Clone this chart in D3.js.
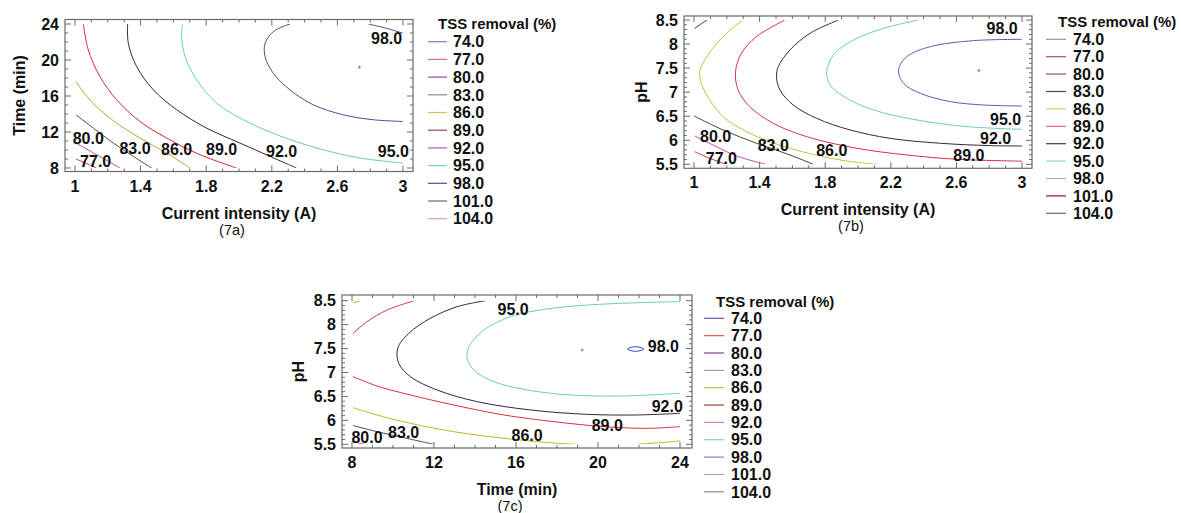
<!DOCTYPE html>
<html><head><meta charset="utf-8">
<script src="https://cdn.jsdelivr.net/npm/d3@7"></script>
<style>
body{margin:0;background:#fff;}
svg text{font-family:"Liberation Sans",Arial,sans-serif;}
</style></head><body>
<svg id="c" width="1181" height="513"></svg>
<script>
// ---------------- data ----------------
const legendLevels = [74, 77, 80, 83, 86, 89, 92, 95, 98, 101, 104];
const currentTicks = [1, 1.4, 1.8, 2.2, 2.6, 3];
const timeTicks = [8, 12, 16, 20, 24];
const phTicks = [5.5, 6, 6.5, 7, 7.5, 8, 8.5];

// 7a : current intensity (A) vs time (min)
const contours7a = [
  {level: 77, pts: [[1.006, 9.0], [1.07, 8.5], [1.13, 8.0]]},
  {level: 80, pts: [[1.006, 10.77], [1.132, 9.48], [1.274, 8.0]]},
  {level: 83, pts: [[1.006, 13.91], [1.112, 12.43], [1.234, 10.77], [1.356, 9.29], [1.467, 8.0]]},
  {level: 86, pts: [[1.006, 17.61], [1.071, 15.95], [1.152, 14.47], [1.254, 12.99], [1.396, 11.33], [1.559, 9.66], [1.701, 8.0]]},
  {level: 89, pts: [[1.051, 24], [1.081, 21.12], [1.152, 18.16], [1.254, 15.58], [1.396, 13.17], [1.559, 11.33], [1.762, 9.48], [1.985, 8.0]]},
  {level: 92, pts: [[1.321, 24], [1.325, 21.86], [1.376, 19.27], [1.478, 16.68], [1.62, 14.47], [1.803, 12.43], [2.006, 10.77], [2.189, 9.29], [2.35, 8.0]]},
  {level: 95, pts: [[1.656, 24], [1.65, 22.6], [1.671, 20.38], [1.742, 17.79], [1.864, 15.21], [2.026, 13.36], [2.23, 11.7], [2.474, 10.22], [2.738, 9.11], [3.0, 8.55]]},
  {level: 98, pts: [[2.311, 24], [2.209, 23.15], [2.159, 21.86], [2.159, 20.38], [2.209, 18.53], [2.311, 16.68], [2.453, 15.02], [2.636, 13.91], [2.819, 13.36], [3.0, 13.17]]},
  {level: 98, pts: [[2.789, 24], [2.9, 23.52], [3.0, 22.97]]}
];
const labels7a = [[80, 1.081, 11.33], [77, 1.126, 8.74], [83, 1.366, 10.22], [86, 1.62, 10.03], [89, 1.894, 10.03], [92, 2.26, 9.85], [95, 2.941, 9.85], [98, 2.9, 22.41]];
const optimum7a = [2.734, 19.2];

// 7b : current intensity (A) vs pH
const contours7b = [
  {level: 77, pts: [[1.004, 5.763], [1.096, 5.625], [1.198, 5.5]]},
  {level: 80, pts: [[1.004, 6.089], [1.137, 5.867], [1.259, 5.673], [1.438, 5.5]]},
  {level: 83, pts: [[1.0, 6.505], [1.177, 6.214], [1.381, 5.937], [1.585, 5.694], [1.728, 5.5]]},
  {level: 83, pts: [[1.004, 8.327], [1.079, 8.5]]},
  {level: 86, pts: [[1.296, 8.5], [1.157, 8.084], [1.065, 7.669], [1.035, 7.426], [1.045, 7.184], [1.096, 6.837], [1.177, 6.491], [1.34, 6.144], [1.585, 5.833], [1.891, 5.59], [2.115, 5.5]]},
  {level: 89, pts: [[1.554, 8.5], [1.381, 8.154], [1.289, 7.807], [1.253, 7.426], [1.269, 7.045], [1.34, 6.699], [1.483, 6.352], [1.687, 6.075], [1.993, 5.833], [2.298, 5.694], [2.604, 5.604], [3.0, 5.565]]},
  {level: 92, pts: [[1.881, 8.5], [1.707, 8.223], [1.585, 7.877], [1.514, 7.53], [1.503, 7.322], [1.524, 7.045], [1.605, 6.733], [1.748, 6.456], [1.952, 6.214], [2.196, 6.04], [2.502, 5.937], [2.808, 5.888], [3.0, 5.881]]},
  {level: 95, pts: [[2.37, 8.5], [2.156, 8.327], [1.972, 8.084], [1.85, 7.773], [1.809, 7.426], [1.83, 7.149], [1.932, 6.872], [2.095, 6.629], [2.36, 6.421], [2.665, 6.283], [3.0, 6.227]]},
  {level: 98, pts: [[3.0, 8.098], [2.706, 8.071], [2.441, 7.946], [2.298, 7.738], [2.247, 7.461], [2.278, 7.184], [2.38, 6.976], [2.563, 6.803], [2.767, 6.733], [3.0, 6.712]]}
];
const labels7b = [[80, 1.132, 6.075], [77, 1.167, 5.625], [83, 1.483, 5.888], [86, 1.84, 5.798], [89, 2.676, 5.694], [92, 2.839, 6.04], [95, 2.9, 6.442], [98, 2.879, 8.327]];
const optimum7b = [2.737, 7.447];

// 7c : time (min) vs pH
const contours7c = [
  {level: 80, pts: [[8.0, 5.56], [8.3, 5.53], [8.6, 5.5]]},
  {level: 83, pts: [[8.05, 5.89], [9.22, 5.764], [10.52, 5.639], [11.99, 5.5]]},
  {level: 86, pts: [[8.05, 6.266], [9.22, 6.113], [10.85, 5.939], [12.96, 5.764], [15.41, 5.625], [17.36, 5.542], [18.9, 5.5]]},
  {level: 86, pts: [[21.92, 5.5], [23.06, 5.535], [24.0, 5.57]]},
  {level: 86, pts: [[8.05, 8.458], [8.41, 8.5]]},
  {level: 89, pts: [[8.05, 6.913], [9.22, 6.718], [10.85, 6.53], [12.96, 6.321], [15.41, 6.113], [17.85, 5.973], [20.29, 5.869], [22.4, 5.834], [24.0, 5.869]]},
  {level: 89, pts: [[8.05, 7.818], [8.73, 8.061], [9.71, 8.305], [11.04, 8.5]]},
  {level: 92, pts: [[14.51, 8.5], [13.13, 8.375], [11.82, 8.131], [10.77, 7.818], [10.23, 7.505], [10.28, 7.191], [10.85, 6.913], [12.15, 6.635], [14.1, 6.391], [16.71, 6.217], [19.47, 6.126], [21.92, 6.113], [24.0, 6.147]]},
  {level: 95, pts: [[24.0, 8.479], [21.92, 8.458], [19.47, 8.409], [17.36, 8.319], [15.73, 8.166], [14.43, 7.887], [13.7, 7.539], [13.62, 7.296], [13.94, 7.052], [14.92, 6.809], [16.55, 6.635], [18.66, 6.53], [21.1, 6.509], [24.0, 6.565]]},
  {level: 98, closed: true, pts: [[21.43, 7.491], [21.62, 7.525], [21.83, 7.539], [22.05, 7.525], [22.24, 7.491], [22.05, 7.456], [21.83, 7.442], [21.62, 7.456]]}
];
const labels7c = [[80, 8.73, 5.639], [83, 10.52, 5.751], [86, 16.54, 5.681], [89, 20.45, 5.904], [92, 23.38, 6.3], [95, 15.86, 8.319], [98, 23.19, 7.539]];
const optimum7c = [19.23, 7.47];

// colours (legend swatches and plotted contour lines)
const legendColors7a = ['#7c7cc8', '#e07080', '#8a4aa8', '#8c8c80', '#d0c050', '#a04848', '#a060c0', '#78d0c0', '#5a4a80', '#806070', '#d8a0b0'];
const legendColors7b = ['#9090d0', '#a05858', '#9048a0', '#3a5a3a', '#d8d060', '#e06868', '#4a2c68', '#88d8cc', '#b0b0d4', '#801818', '#905858'];
const legendColors7c = ['#5858a0', '#e05858', '#8040a0', '#a0a0a0', '#c0c040', '#a04040', '#e080c0', '#80d0c0', '#8080c0', '#c0a0a0', '#a08080'];
const lineColors7a = {77: '#b84070', 80: '#c848b0', 83: '#505050', 86: '#b0a838', 89: '#cc2840', 92: '#3c2040', 95: '#68ccc0', 98: '#4c4c8c'};
const lineColors7b = {77: '#d03050', 80: '#c848a8', 83: '#404838', 86: '#c8c040', 89: '#d83048', 92: '#402040', 95: '#68ccc0', 98: '#5a5ab0'};
const lineColors7c = {80: '#d050a0', 83: '#485048', 86: '#c0b820', 89: '#d83040', 92: '#3a2040', 95: '#68ccc0', 98: '#3040c0'};

// ---------------- layout ----------------
const FONT = 16;
const TITLE_FONT = 15;
const panels = [
  {id: '7a', xDom: [1, 3], xRange: [75, 403], yDom: [8, 24], yRange: [168, 24],
   frame: [65, 19.5, 413, 171.5], xTicks: currentTicks, yTicks: timeTicks,
   xMinor: 0.1, yMinor: 1, xTitle: 'Current intensity (A)', yTitle: 'Time (min)',
   yTitleX: 19, contours: contours7a, labels: labels7a, opt: optimum7a, lineColors: lineColors7a,
   legend: {colors: legendColors7a, lx0: 428, lx1: 447, tx: 453, titleX: 438, titleY: 29, y0: 41.7, step: 17.7}},
  {id: '7b', xDom: [1, 3], xRange: [694, 1022], yDom: [5.5, 8.5], yRange: [164.3, 20],
   frame: [684, 16, 1032, 168.3], xTicks: currentTicks, yTicks: phTicks,
   xMinor: 0.1, yMinor: 0.1, xTitle: 'Current intensity (A)', yTitle: 'pH',
   yTitleX: 641, contours: contours7b, labels: labels7b, opt: optimum7b, lineColors: lineColors7b,
   legend: {colors: legendColors7b, lx0: 1046, lx1: 1066, tx: 1073, titleX: 1058, titleY: 27, y0: 39.3, step: 17.4}},
  {id: '7c', xDom: [8, 24], xRange: [352, 680], yDom: [5.5, 8.5], yRange: [444.3, 300.7],
   frame: [342, 295, 692, 448], xTicks: timeTicks, yTicks: phTicks,
   xMinor: 1, yMinor: 0.1, xTitle: 'Time (min)', yTitle: 'pH',
   yTitleX: 298, contours: contours7c, labels: labels7c, opt: optimum7c, lineColors: lineColors7c,
   legend: {colors: legendColors7c, lx0: 704, lx1: 724, tx: 731, titleX: 716, titleY: 307, y0: 318.3, step: 17.35}}
];

const svg = d3.select('#c');
const fmt = v => String(v);

panels.forEach(p => {
  const x = d3.scaleLinear().domain(p.xDom).range(p.xRange);
  const y = d3.scaleLinear().domain(p.yDom).range(p.yRange);
  const [fx0, fy0, fx1, fy1] = p.frame;
  const g = svg.append('g');

  const clipId = 'clip' + p.id;
  svg.append('clipPath').attr('id', clipId).append('rect')
    .attr('x', x(p.xDom[0])).attr('y', y(p.yDom[1]))
    .attr('width', x(p.xDom[1]) - x(p.xDom[0])).attr('height', y(p.yDom[0]) - y(p.yDom[1]));

  const lineGen = d3.line().x(d => x(d[0])).y(d => y(d[1])).curve(d3.curveCatmullRom.alpha(0.5));
  const closedGen = d3.line().x(d => x(d[0])).y(d => y(d[1])).curve(d3.curveCatmullRomClosed.alpha(0.5));
  g.append('g').attr('clip-path', `url(#${clipId})`)
    .selectAll('path').data(p.contours).join('path')
    .attr('d', c => (c.closed ? closedGen : lineGen)(c.pts))
    .attr('fill', 'none').attr('stroke', c => p.lineColors[c.level]).attr('stroke-width', 1);

  const ox = x(p.opt[0]), oy = y(p.opt[1]);
  g.append('path').attr('d', `M${ox - 1.5},${oy}H${ox + 1.5}M${ox},${oy - 1.5}V${oy + 1.5}`)
    .attr('stroke', '#8a8a30').attr('stroke-width', 1);

  g.append('rect').attr('x', fx0).attr('y', fy0).attr('width', fx1 - fx0).attr('height', fy1 - fy0)
    .attr('fill', 'none').attr('stroke', '#6a6a6a').attr('stroke-width', 1.2);

  const xMinorVals = d3.range(p.xDom[0], p.xDom[1] + 1e-9, p.xMinor);
  const yMinorVals = d3.range(p.yDom[0], p.yDom[1] + 1e-9, p.yMinor);
  const isMajor = (v, arr) => arr.some(t => Math.abs(t - v) < 1e-6);
  const tk = g.append('g').attr('stroke', '#6a6a6a').attr('stroke-width', 1);
  xMinorVals.forEach(v => {
    const L = isMajor(v, p.xTicks) ? 6 : 3;
    tk.append('line').attr('x1', x(v)).attr('x2', x(v)).attr('y1', fy1).attr('y2', fy1 - L);
    tk.append('line').attr('x1', x(v)).attr('x2', x(v)).attr('y1', fy0).attr('y2', fy0 + L);
  });
  yMinorVals.forEach(v => {
    const L = isMajor(v, p.yTicks) ? 6 : 3;
    tk.append('line').attr('y1', y(v)).attr('y2', y(v)).attr('x1', fx0).attr('x2', fx0 + L);
    tk.append('line').attr('y1', y(v)).attr('y2', y(v)).attr('x1', fx1).attr('x2', fx1 - L);
  });

  g.append('g').selectAll('text').data(p.xTicks).join('text')
    .attr('x', d => x(d)).attr('y', fy1 + 20).attr('text-anchor', 'middle')
    .attr('font-size', FONT).attr('font-weight', 'bold').attr('fill', '#111').text(fmt);
  g.append('g').selectAll('text').data(p.yTicks).join('text')
    .attr('x', fx0 - 6).attr('y', d => y(d) + 5.7).attr('text-anchor', 'end')
    .attr('font-size', FONT).attr('font-weight', 'bold').attr('fill', '#111').text(fmt);

  const cx = (fx0 + fx1) / 2;
  g.append('text').attr('x', cx).attr('y', fy1 + 47).attr('text-anchor', 'middle')
    .attr('font-size', FONT).attr('font-weight', 'bold').attr('fill', '#111').text(p.xTitle);
  g.append('text').attr('x', cx - 7).attr('y', fy1 + 63).attr('text-anchor', 'middle')
    .attr('font-size', 14.5).attr('fill', '#111').text('(' + p.id + ')');
  g.append('text').attr('transform', `translate(${p.yTitleX},${(fy0 + fy1) / 2}) rotate(-90)`)
    .attr('text-anchor', 'middle').attr('dominant-baseline', 'central')
    .attr('font-size', FONT).attr('font-weight', 'bold').attr('fill', '#111').text(p.yTitle);

  g.append('g').selectAll('text').data(p.labels).join('text')
    .attr('x', d => x(d[1])).attr('y', d => y(d[2]) + 5.7).attr('text-anchor', 'middle')
    .attr('font-size', FONT).attr('font-weight', 'bold').attr('fill', '#111')
    .text(d => d[0].toFixed(1));

  const lg = p.legend;
  g.append('text').attr('x', lg.titleX).attr('y', lg.titleY)
    .attr('font-size', TITLE_FONT).attr('font-weight', 'bold').attr('fill', '#111').text('TSS removal (%)');
  const items = g.append('g').selectAll('g').data(legendLevels).join('g');
  items.append('line')
    .attr('x1', lg.lx0).attr('x2', lg.lx1)
    .attr('y1', (d, i) => lg.y0 + i * lg.step).attr('y2', (d, i) => lg.y0 + i * lg.step)
    .attr('stroke', (d, i) => lg.colors[i]).attr('stroke-width', 1.2);
  items.append('text').attr('x', lg.tx).attr('y', (d, i) => lg.y0 + i * lg.step + 5.7)
    .attr('font-size', FONT).attr('font-weight', 'bold').attr('fill', '#111')
    .text(d => d.toFixed(1));
});
</script>
</body></html>
